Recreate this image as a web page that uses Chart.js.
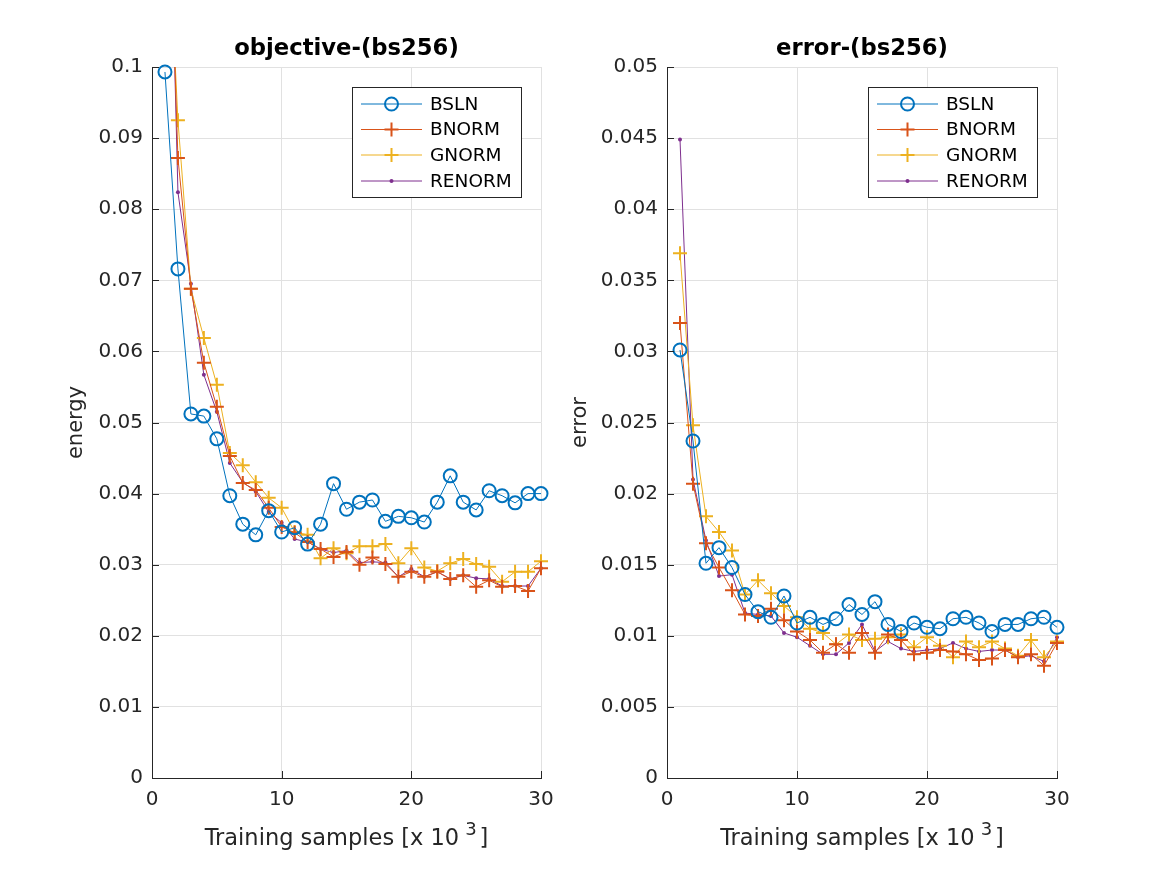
<!DOCTYPE html>
<html>
<head>
<meta charset="utf-8">
<script src="https://cdn.jsdelivr.net/npm/chart.js@4.4.0/dist/chart.umd.min.js"></script>
<style>
  html, body { margin: 0; padding: 0; background: #fff; }
  body { width: 1167px; height: 875px; position: relative; overflow: hidden; }
  canvas { position: absolute; top: 0; }
</style>
</head>
<body>
<canvas id="c1" width="560" height="875" style="left:0px"></canvas>
<canvas id="c2" width="607" height="875" style="left:560px"></canvas>
<script>
// ---------------- data ----------------
const samples = [1,2,3,4,5,6,7,8,9,10,11,12,13,14,15,16,17,18,19,20,21,22,23,24,25,26,27,28,29,30];
const seriesNames = ['BSLN', 'BNORM', 'GNORM', 'RENORM'];
const xTicks = [0, 10, 20, 30];
const yTicksObjective = [0, 0.01, 0.02, 0.03, 0.04, 0.05, 0.06, 0.07, 0.08, 0.09, 0.1];
const yTicksError = [0, 0.005, 0.01, 0.015, 0.02, 0.025, 0.03, 0.035, 0.04, 0.045, 0.05];
const xLabelMain = 'Training samples [x 10';
const xLabelSup = '3';
const xLabelEnd = ']';

const bslnObjective   = [0.0993,0.0716,0.0512,0.0509,0.0477,0.0397,0.0357,0.0342,0.0376,0.0346,0.0352,0.0329,0.0357,0.0414,0.0378,0.0388,0.0391,0.0361,0.0368,0.0366,0.0360,0.0388,0.0425,0.0388,0.0377,0.0404,0.0397,0.0387,0.0400,0.0400];
const bnormObjective  = [0.143,0.0872,0.0688,0.0584,0.0522,0.0453,0.0415,0.0405,0.0380,0.0353,0.0345,0.0332,0.0322,0.0311,0.0318,0.0300,0.0310,0.0301,0.0283,0.0290,0.0283,0.0290,0.0280,0.0285,0.0269,0.0278,0.0269,0.0270,0.0263,0.0295];
const gnormObjective  = [0.130,0.0925,0.0688,0.0619,0.0553,0.0457,0.0440,0.0416,0.0394,0.0380,0.0346,0.0342,0.0309,0.0323,0.0316,0.0326,0.0326,0.0329,0.0302,0.0323,0.0296,0.0291,0.0302,0.0308,0.0301,0.0297,0.0276,0.0290,0.0290,0.0305];
const renormObjective = [0.154,0.0824,0.0695,0.0567,0.0515,0.0443,0.0416,0.0403,0.0374,0.0359,0.0336,0.0332,0.0322,0.0317,0.0320,0.0303,0.0304,0.0303,0.0283,0.0294,0.0283,0.0290,0.0280,0.0285,0.0281,0.0280,0.0270,0.0270,0.0270,0.0295];

const bslnError   = [0.0301,0.0237,0.0151,0.0162,0.0148,0.0129,0.0117,0.0113,0.0128,0.0109,0.0113,0.0108,0.0112,0.0122,0.0115,0.0124,0.0108,0.0103,0.0109,0.0106,0.0105,0.0112,0.0113,0.0109,0.0103,0.0108,0.0108,0.0112,0.0113,0.0106];
const bnormError  = [0.0320,0.0207,0.0165,0.0148,0.0132,0.0115,0.0114,0.0119,0.0111,0.0103,0.0097,0.0088,0.0094,0.0088,0.0102,0.0088,0.0101,0.0097,0.0087,0.0088,0.0090,0.0089,0.0087,0.0083,0.0084,0.0090,0.0085,0.0087,0.0079,0.0095];
const gnormError  = [0.0369,0.0248,0.0184,0.0173,0.0160,0.0129,0.0139,0.0130,0.0121,0.0113,0.0105,0.0102,0.0094,0.0101,0.0097,0.0098,0.0099,0.0101,0.0092,0.0099,0.0093,0.0085,0.0096,0.0092,0.0096,0.0091,0.0086,0.0097,0.0085,0.0096];
const renormError = [0.0449,0.0210,0.0167,0.0142,0.0143,0.0116,0.0115,0.0114,0.0102,0.0099,0.0093,0.0087,0.0087,0.0095,0.0108,0.0089,0.0096,0.0091,0.0089,0.0090,0.0091,0.0095,0.0091,0.0089,0.0090,0.0090,0.0085,0.0086,0.0082,0.0099];

// ---------------- styles ----------------
const FONT = "'DejaVu Sans', 'Liberation Sans', sans-serif";
const TEXT = '#262626';
const colors = ['#0072BD', '#D95319', '#EDB120', '#7E2F8E'];
const markerStyle = [
  { pointStyle: 'circle', pointRadius: 6.5, pointBorderWidth: 2, fill: false },
  { pointStyle: 'cross',  pointRadius: 7,   pointBorderWidth: 2, fill: true },
  { pointStyle: 'cross',  pointRadius: 7,   pointBorderWidth: 2, fill: true },
  { pointStyle: 'circle', pointRadius: 2,   pointBorderWidth: 0, fill: true }
];

function fmt(v) { return String(parseFloat(v.toFixed(4))); }

function makeDatasets(valueLists) {
  return valueLists.map((vals, i) => ({
    label: seriesNames[i],
    data: samples.map((x, k) => ({ x: x, y: vals[k] })),
    borderColor: colors[i],
    backgroundColor: colors[i],
    borderWidth: 1,
    pointStyle: markerStyle[i].pointStyle,
    pointRadius: markerStyle[i].pointRadius,
    pointHoverRadius: markerStyle[i].pointRadius,
    pointBorderWidth: markerStyle[i].pointBorderWidth,
    pointBorderColor: colors[i],
    pointBackgroundColor: markerStyle[i].fill ? colors[i] : 'rgba(0,0,0,0)',
    tension: 0,
    clip: { left: 10, right: 10, bottom: 10, top: i === 0 ? 8 : 0 }
  }));
}

// inward ticks (MATLAB style)
const innerTicks = {
  id: 'innerTicks',
  afterDraw(chart) {
    const { ctx, chartArea } = chart;
    const xs = chart.scales.x, ys = chart.scales.y;
    ctx.save();
    ctx.strokeStyle = TEXT;
    ctx.lineWidth = 1;
    ctx.beginPath();
    ys.ticks.forEach(t => {
      const y = Math.round(ys.getPixelForValue(t.value)) + 0.5;
      ctx.moveTo(chartArea.left, y);
      ctx.lineTo(chartArea.left + 7, y);
    });
    xs.ticks.forEach(t => {
      const x = Math.round(xs.getPixelForValue(t.value)) + 0.5;
      ctx.moveTo(x, chartArea.bottom);
      ctx.lineTo(x, chartArea.bottom - 7);
    });
    ctx.stroke();
    ctx.restore();
  }
};

// x-axis label with a raised exponent
const xAxisLabel = {
  id: 'xAxisLabel',
  afterDraw(chart) {
    const { ctx, chartArea } = chart;
    ctx.save();
    ctx.fillStyle = TEXT;
    ctx.textBaseline = 'alphabetic';
    ctx.textAlign = 'left';
    const mainFont = '22.5px ' + FONT, supFont = '18px ' + FONT;
    ctx.font = mainFont;
    const w1 = ctx.measureText(xLabelMain).width;
    const w3 = ctx.measureText(xLabelEnd).width;
    ctx.font = supFont;
    const w2 = ctx.measureText(xLabelSup).width;
    const gapA = 6, gapB = 3;
    const total = w1 + gapA + w2 + gapB + w3;
    const cx = (chartArea.left + chartArea.right) / 2;
    let x = cx - total / 2;
    const base = chartArea.bottom + 67;
    ctx.font = mainFont;
    ctx.fillText(xLabelMain, x, base);
    x += w1 + gapA;
    ctx.font = supFont;
    ctx.fillText(xLabelSup, x, base - 10);
    x += w2 + gapB;
    ctx.font = mainFont;
    ctx.fillText(xLabelEnd, x, base);
    ctx.restore();
  }
};

// legend drawn inside the axes (north-east)
const insideLegend = {
  id: 'insideLegend',
  afterDraw(chart) {
    const { ctx, chartArea } = chart;
    const w = 169, h = 110;
    const left = chartArea.right - 20 - w;
    const top = chartArea.top + 20;
    ctx.save();
    ctx.fillStyle = '#fff';
    ctx.fillRect(left, top, w, h);
    ctx.strokeStyle = '#262626';
    ctx.lineWidth = 1;
    ctx.strokeRect(Math.round(left) + 0.5, Math.round(top) + 0.5, w, h);
    const rows = [17, 42.5, 68, 94];
    chart.data.datasets.forEach((ds, i) => {
      const y = top + rows[i];
      ctx.strokeStyle = ds.borderColor;
      ctx.lineWidth = 1;
      ctx.beginPath();
      ctx.moveTo(left + 9, y);
      ctx.lineTo(left + 70, y);
      ctx.stroke();
      const mx = left + 39.5;
      ctx.lineWidth = 2;
      if (i === 0) {
        ctx.beginPath();
        ctx.arc(mx, y, 6.5, 0, Math.PI * 2);
        ctx.stroke();
      } else if (i === 3) {
        ctx.fillStyle = ds.borderColor;
        ctx.beginPath();
        ctx.arc(mx, y, 2, 0, Math.PI * 2);
        ctx.fill();
      } else {
        ctx.beginPath();
        ctx.moveTo(mx - 7, y); ctx.lineTo(mx + 7, y);
        ctx.moveTo(mx, y - 7); ctx.lineTo(mx, y + 7);
        ctx.stroke();
      }
      ctx.fillStyle = '#000';
      ctx.font = '18.5px ' + FONT;
      ctx.textBaseline = 'middle';
      ctx.textAlign = 'left';
      ctx.fillText(ds.label, left + 78, y + 1);
    });
    ctx.restore();
  }
};

function makeChart(id, title, yLabel, valueLists, yTicks, yMax, yTitlePad, rightPad, yAxisWidth) {
  return new Chart(document.getElementById(id), {
    type: 'line',
    data: { datasets: makeDatasets(valueLists) },
    plugins: [innerTicks, insideLegend, xAxisLabel],
    options: {
      responsive: false,
      animation: false,
      events: [],
      layout: { padding: { left: 0, right: rightPad, top: 0, bottom: 0 } },
      plugins: {
        legend: { display: false },
        tooltip: { enabled: false },
        title: {
          display: true,
          fullSize: false,
          text: title,
          color: '#000',
          font: { family: FONT, size: 22.7, weight: 'bold' },
          padding: { top: 35.5, bottom: 4.26 }
        }
      },
      scales: {
        x: {
          type: 'linear',
          min: 0, max: 30,
          afterBuildTicks(scale) { scale.ticks = xTicks.map(v => ({ value: v })); },
          afterFit(scale) { scale.height = 97; scale.paddingLeft = 0; scale.paddingRight = 0; },
          ticks: {
            color: TEXT, padding: 10,
            font: { family: FONT, size: 20 },
            callback: v => fmt(v),
            maxRotation: 0
          },
          grid: { color: '#e1e1e1', lineWidth: 1, drawTicks: false },
          border: { display: true, color: TEXT, width: 1 },
          title: { display: false }
        },
        y: {
          type: 'linear',
          min: 0, max: yMax,
          afterBuildTicks(scale) { scale.ticks = yTicks.map(v => ({ value: v })); },
          afterFit(scale) { scale.width = yAxisWidth; scale.paddingTop = 0; scale.paddingBottom = 0; },
          ticks: {
            color: TEXT, padding: 9,
            font: { family: FONT, size: 20 },
            callback: v => fmt(v)
          },
          grid: { color: '#e1e1e1', lineWidth: 1, drawTicks: false },
          border: { display: true, color: TEXT, width: 1 },
          title: {
            display: true,
            text: yLabel,
            color: TEXT,
            font: { family: FONT, size: 21 },
            padding: { top: yTitlePad, bottom: 0 }
          }
        }
      }
    }
  });
}

makeChart('c1', 'objective-(bs256)', 'energy',
  [bslnObjective, bnormObjective, gnormObjective, renormObjective],
  yTicksObjective, 0.1, 64, 19, 152);
makeChart('c2', 'error-(bs256)', 'error',
  [bslnError, bnormError, gnormError, renormError],
  yTicksError, 0.05, 7.5, 110, 107);
</script>
</body>
</html>
